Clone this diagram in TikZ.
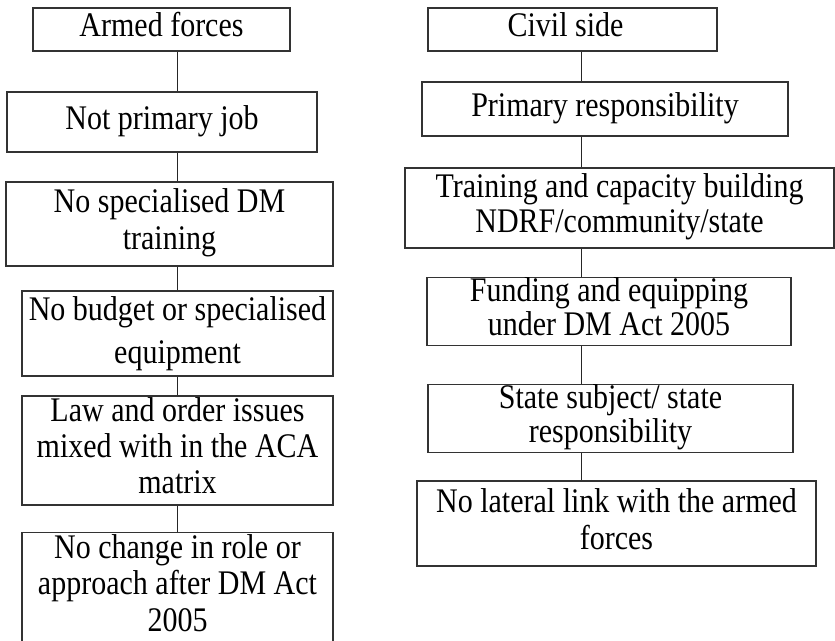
\documentclass[tikz,border=0pt]{standalone}
\usepackage{fontspec}
\setmainfont{Liberation Serif}
\usepackage{graphicx}
\newcommand{\bt}[2]{\scalebox{1}[1.15]{\fontsize{30}{#1}\selectfont\begin{tabular}{@{}c@{}}#2\end{tabular}}}
\begin{document}
\begin{tikzpicture}[x=1pt,y=-1pt,
  box/.style={draw=black!80, line width=1.2pt, inner sep=0pt, anchor=center},
  link/.style={draw=black!85, line width=1pt}]
\useasboundingbox (0,0) rectangle (835,640);
% left column
\node[box, minimum width=257pt, minimum height=43pt] (L1) at (161.5,29.5) {\bt{32}{Armed forces}};
\node[box, minimum width=310pt, minimum height=60pt] (L2) at (162,122) {\bt{32}{Not primary job}};
\node[box, minimum width=327pt, minimum height=84pt] (L3) at (169.5,224) {\bt{32}{No specialised DM\\training}};
\node[box, minimum width=311pt, minimum height=85pt] (L4) at (177.5,333.5) {\bt{37}{No budget or specialised\\equipment}};
\node[box, minimum width=311pt, minimum height=109pt] (L5) at (177.5,450.5) {\bt{31.5}{Law and order issues\\mixed with in the ACA\\matrix}};
\node[box, minimum width=311pt, minimum height=103pt] (L6) at (177.5,587.5) {\bt{32}{No change in role or\\approach after DM Act\\2005}};
% right column
\node[box, minimum width=289pt, minimum height=43pt] (R1) at (572.5,29.5) {\hspace*{-14pt}\bt{32}{Civil side}};
\node[box, minimum width=366pt, minimum height=54pt] (R2) at (605,109) {\bt{32}{Primary responsibility}};
\node[box, minimum width=429pt, minimum height=80pt] (R3) at (619.5,208) {\bt{30}{Training and capacity building\\NDRF/community/state}};
\node[box, minimum width=364pt, minimum height=65pt] (R4) at (609,311.5) {\bt{29}{Funding and equipping\\under DM Act 2005}};
\node[box, minimum width=365pt, minimum height=65pt] (R5) at (610.5,418.5) {\bt{29}{State subject/ state\\responsibility}};
\node[box, minimum width=399pt, minimum height=85pt] (R6) at (616.5,523.5) {\bt{32}{No lateral link with the armed\\forces}};
% connectors
\coordinate (cl) at (177,0);
\coordinate (cr) at (581,0);
\draw[link] (L1.south -| cl) -- (L2.north -| cl);
\draw[link] (L2.south -| cl) -- (L3.north -| cl);
\draw[link] (L3.south -| cl) -- (L4.north -| cl);
\draw[link] (L4.south -| cl) -- (L5.north -| cl);
\draw[link] (L5.south -| cl) -- (L6.north -| cl);
\draw[link] (R1.south -| cr) -- (R2.north -| cr);
\draw[link] (R2.south -| cr) -- (R3.north -| cr);
\draw[link] (R3.south -| cr) -- (R4.north -| cr);
\draw[link] (R4.south -| cr) -- (R5.north -| cr);
\draw[link] (R5.south -| cr) -- (R6.north -| cr);
\end{tikzpicture}
\end{document}
